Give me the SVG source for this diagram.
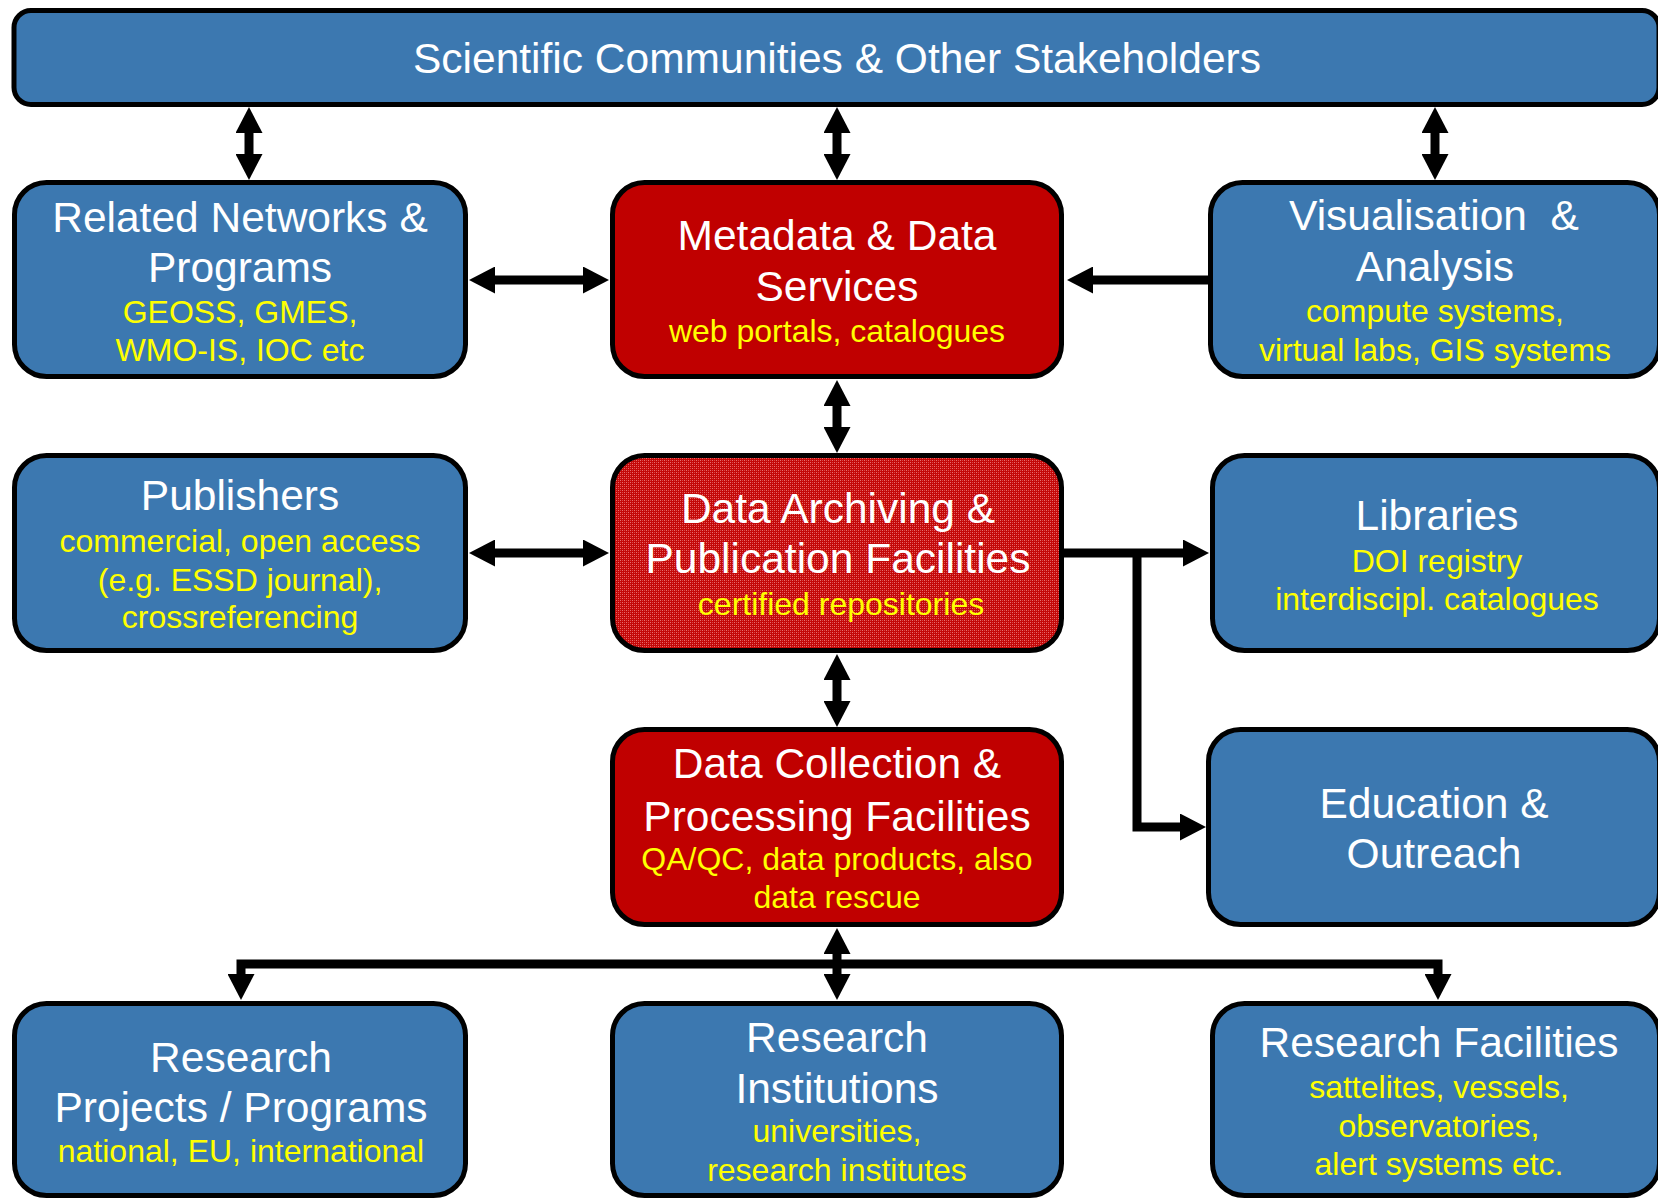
<svg xmlns="http://www.w3.org/2000/svg" width="1658" height="1201" viewBox="0 0 1658 1201">
<style>
.box{stroke:#000;stroke-width:5}
.blue{fill:#3C78B0}
.red{fill:#C00000}
.t{font-family:"Liberation Sans",Arial,sans-serif;font-size:42.5px;fill:#fff;text-anchor:middle}
.s{font-family:"Liberation Sans",Arial,sans-serif;font-size:32px;fill:#FFFF00;text-anchor:middle}
.c{fill:none;stroke:#000;stroke-width:9;stroke-linejoin:miter}
</style>
<defs>
<pattern id="dots" width="4" height="4" patternUnits="userSpaceOnUse">
<rect width="4" height="4" fill="#C40808"/>
<rect x="0" y="0" width="1" height="1" fill="#E87070"/>
<rect x="2" y="2" width="1" height="1" fill="#E87070"/>
<rect x="2" y="0" width="1" height="1" fill="#D84848"/>
<rect x="0" y="2" width="1" height="1" fill="#D84848"/>
</pattern>
<marker id="ah" viewBox="0 0 26 27" refX="0" refY="13.5" markerWidth="26" markerHeight="27" markerUnits="userSpaceOnUse" orient="auto-start-reverse">
<path d="M0,0 L26,13.5 L0,27 Z" fill="#000"/>
</marker>
</defs>

<g id="connectors">
<line class="c" x1="249" y1="133" x2="249" y2="154" marker-start="url(#ah)" marker-end="url(#ah)"/>
<line class="c" x1="837" y1="133" x2="837" y2="154" marker-start="url(#ah)" marker-end="url(#ah)"/>
<line class="c" x1="1435" y1="133" x2="1435" y2="154" marker-start="url(#ah)" marker-end="url(#ah)"/>
<line class="c" x1="495" y1="280" x2="583" y2="280" marker-start="url(#ah)" marker-end="url(#ah)"/>
<line class="c" x1="1210" y1="280" x2="1093" y2="280" marker-end="url(#ah)"/>
<line class="c" x1="837" y1="406" x2="837" y2="427" marker-start="url(#ah)" marker-end="url(#ah)"/>
<line class="c" x1="495" y1="553" x2="583" y2="553" marker-start="url(#ah)" marker-end="url(#ah)"/>
<line class="c" x1="1064" y1="553" x2="1183" y2="553" marker-end="url(#ah)"/>
<path class="c" d="M1137,553 V827 H1180" marker-end="url(#ah)"/>
<line class="c" x1="837" y1="680" x2="837" y2="701" marker-start="url(#ah)" marker-end="url(#ah)"/>
<line class="c" x1="837" y1="954" x2="837" y2="974" marker-start="url(#ah)" marker-end="url(#ah)"/>
<path class="c" d="M241,974 V964 H1438 V974" marker-start="url(#ah)" marker-end="url(#ah)"/>
</g>

<g id="stakeholders">
<rect class="box blue" x="14" y="10.5" width="1645" height="94" rx="17"/>
<text class="t" x="837" y="73">Scientific Communities &amp; Other Stakeholders</text>
</g>

<g id="related-networks">
<rect class="box blue" x="14.5" y="182.5" width="451" height="194" rx="32"/>
<text class="t" x="240" y="232">Related Networks &amp;</text>
<text class="t" x="240" y="282">Programs</text>
<text class="s" x="240" y="323">GEOSS, GMES,</text>
<text class="s" x="240" y="361">WMO-IS, IOC etc</text>
</g>

<g id="metadata-services">
<rect class="box red" x="612.5" y="182.5" width="449" height="194" rx="32"/>
<text class="t" x="837" y="250">Metadata &amp; Data</text>
<text class="t" x="837" y="301">Services</text>
<text class="s" x="837" y="342">web portals, catalogues</text>
</g>

<g id="visualisation">
<rect class="box blue" x="1210.5" y="182.5" width="449" height="194" rx="32"/>
<text class="t" x="1434" y="230" xml:space="preserve">Visualisation  &amp;</text>
<text class="t" x="1435" y="281">Analysis</text>
<text class="s" x="1435" y="322">compute systems,</text>
<text class="s" x="1435" y="361">virtual labs, GIS systems</text>
</g>

<g id="publishers">
<rect class="box blue" x="14.5" y="455.5" width="451" height="195" rx="32"/>
<text class="t" x="240" y="510">Publishers</text>
<text class="s" x="240" y="552">commercial, open access</text>
<text class="s" x="240" y="591">(e.g. ESSD journal),</text>
<text class="s" x="240" y="628">crossreferencing</text>
</g>

<g id="data-archiving">
<rect class="box" fill="url(#dots)" x="612.5" y="455.5" width="449" height="195" rx="32"/>
<text class="t" x="838" y="523">Data Archiving &amp;</text>
<text class="t" x="838" y="573">Publication Facilities</text>
<text class="s" x="841" y="615">certified repositories</text>
</g>

<g id="libraries">
<rect class="box blue" x="1212.5" y="455.5" width="447" height="195" rx="32"/>
<text class="t" x="1437" y="530">Libraries</text>
<text class="s" x="1437" y="572">DOI registry</text>
<text class="s" x="1437" y="610">interdiscipl. catalogues</text>
</g>

<g id="data-collection">
<rect class="box red" x="612.5" y="729.5" width="449" height="195" rx="32"/>
<text class="t" x="837" y="778">Data Collection &amp;</text>
<text class="t" x="837" y="831">Processing Facilities</text>
<text class="s" x="837" y="870">QA/QC, data products, also</text>
<text class="s" x="837" y="908">data rescue</text>
</g>

<g id="education">
<rect class="box blue" x="1208.5" y="729.5" width="451" height="195" rx="32"/>
<text class="t" x="1434" y="818">Education &amp;</text>
<text class="t" x="1434" y="868">Outreach</text>
</g>

<g id="research-projects">
<rect class="box blue" x="14.5" y="1003.5" width="451" height="192" rx="32"/>
<text class="t" x="241" y="1072">Research</text>
<text class="t" x="241" y="1122">Projects / Programs</text>
<text class="s" x="241" y="1162">national, EU, international</text>
</g>

<g id="research-institutions">
<rect class="box blue" x="612.5" y="1003.5" width="449" height="192" rx="32"/>
<text class="t" x="837" y="1052">Research</text>
<text class="t" x="837" y="1103">Institutions</text>
<text class="s" x="837" y="1142">universities,</text>
<text class="s" x="837" y="1181">research institutes</text>
</g>

<g id="research-facilities">
<rect class="box blue" x="1212.5" y="1003.5" width="447" height="192" rx="32"/>
<text class="t" x="1439" y="1057">Research Facilities</text>
<text class="s" x="1439" y="1098">sattelites, vessels,</text>
<text class="s" x="1439" y="1137">observatories,</text>
<text class="s" x="1439" y="1175">alert systems etc.</text>
</g>
</svg>
